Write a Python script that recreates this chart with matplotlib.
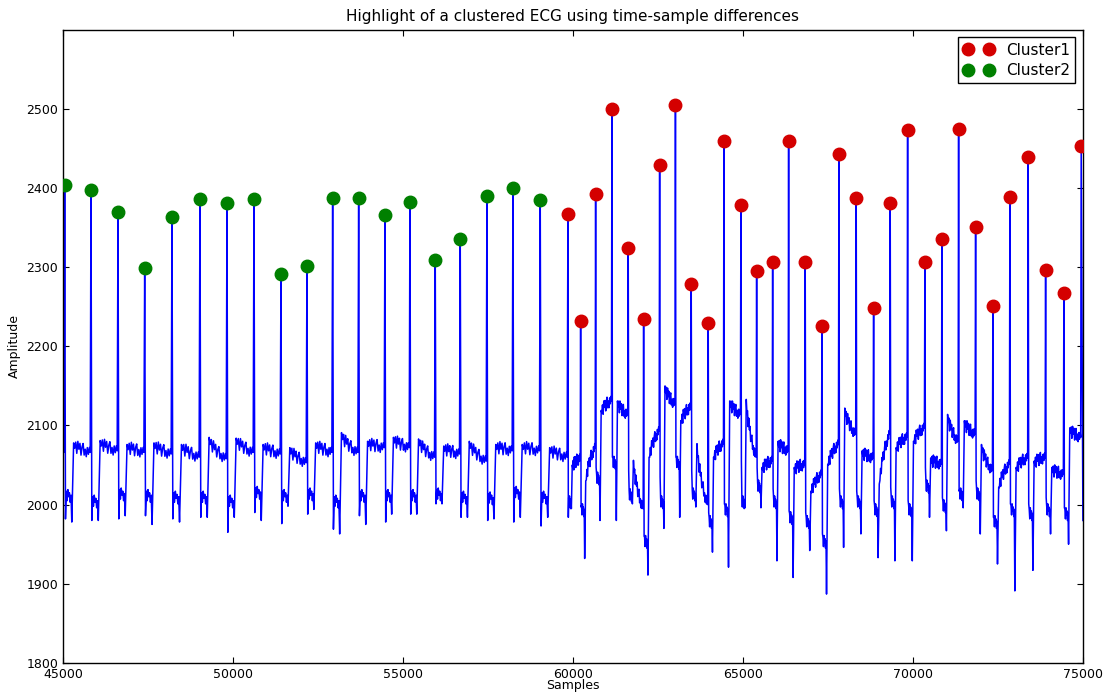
import matplotlib
matplotlib.use("Agg")
import matplotlib.pyplot as plt

plt.rcParams['font.family'] = ['DejaVu Sans']

# R-peak positions (samples) and amplitudes for the two clusters
cluster2_x = [45050, 45824, 46618, 47403, 48206, 49029, 49824, 50618, 51412, 52176,
              52932, 53697, 54470, 55206, 55950, 56685, 57470, 58235, 59038]
cluster2_y = [2404, 2397, 2370, 2299, 2363, 2386, 2381, 2386, 2292, 2301,
              2388, 2388, 2366, 2383, 2309, 2335, 2390, 2400, 2385]

cluster1_x = [59853, 60226, 60667, 61147, 61626, 62079, 62550, 63015, 63479, 63979,
              64441, 64941, 65403, 65874, 66344, 66832, 67324, 67824, 68332, 68844,
              69332, 69844, 70353, 70853, 71344, 71844, 72353, 72853, 73391, 73903,
              74441, 74950]
cluster1_y = [2367, 2232, 2392, 2500, 2324, 2234, 2429, 2505, 2279, 2229,
              2459, 2379, 2295, 2306, 2459, 2306, 2226, 2443, 2388, 2248,
              2381, 2473, 2306, 2335, 2474, 2351, 2251, 2389, 2439, 2296,
              2268, 2453]

# levels of the trace between one R peak and the next
s_level = [1982, 1980, 1982, 1986, 1982, 1984, 1965, 1990, 1976, 1988,
           1969, 1986, 1978, 1988, 2001, 1984, 1980, 1978, 1973,
           1984, 1997, 2047, 2060, 2043, 1960, 2035, 2060, 2043, 1990,
           2001, 2055, 2047, 2020, 1992, 1990, 1963, 2020, 2017, 2005,
           2022, 2005, 2047, 2009, 2017, 2030, 1984, 2001, 2001, 2009,
           1996, 1980]
low_level = [2008, 2001, 2010, 2008, 2006, 2006, 2001, 2012, 2008, 2010,
             2001, 2008, 2008, 2008, 2010, 2006, 2005, 2012, 2006,
             2000, 1990, 2030, 2050, 2009, 1950, 2000, 2050, 2010, 1975,
             1990, 2000, 2020, 2000, 1980, 1975, 1950, 2000, 2000, 1990,
             2000, 1990, 2020, 1995, 2010, 2010, 1975, 1990, 1985, 1990,
             1985, 1980]
dip_level = [1978, 1980, 1986, 1975, 1978, 1984, 1984, 1980, 1998, 1994,
             1963, 1975, 1988, 1988, 2001, 1984, 1982, 1984, 1984,
             1995, 1932, 1980, 1980, 2001, 1911, 1970, 1984, 1997, 1940,
             1921, 1996, 1996, 1929, 1908, 1942, 1887, 1946, 1963, 1933,
             1929, 1929, 1984, 1967, 1996, 1963, 1925, 1891, 1917, 1963,
             1950, 1980]
high_level = [2078, 2081, 2076, 2078, 2076, 2085, 2084, 2076, 2072, 2078,
              2091, 2080, 2085, 2083, 2074, 2080, 2076, 2076, 2072,
              2050, 2030, 2119, 2131, 2056, 2060, 2150, 2106, 2077, 2060,
              2131, 2133, 2047, 2080, 2047, 2017, 2051, 2122, 2068, 2026,
              2072, 2080, 2059, 2114, 2106, 2076, 2022, 2047, 2055, 2047,
              2097, 1980]
pre_level = [2066, 2068, 2066, 2064, 2060, 2058, 2066, 2064, 2053, 2066,
             2066, 2072, 2072, 2060, 2064, 2055, 2068, 2068, 2060,
             2058, 2072, 2131, 2114, 1995, 2093, 2127, 2123, 2000, 2077,
             2114, 2060, 2055, 2068, 2050, 2038, 2076, 2089, 2059, 2089,
             2085, 2097, 2051, 2080, 2089, 2043, 2051, 2059, 2059, 2038,
             2085, 1980]
start_level = 2066

# beat shape: where the levels sit inside one R-R interval, plus the noise ripple
low_frac = [0.03, 0.06, 0.09, 0.12, 0.15, 0.18, 0.21, 0.24]
low_rip = [0, 9, -3, 11, 2, 7, -5, 4]
dip_frac = 0.27
high_frac = [0.34, 0.38, 0.42, 0.46, 0.50, 0.54, 0.58, 0.62, 0.66, 0.70,
             0.74, 0.78, 0.82, 0.86, 0.90, 0.94, 0.97]
decay = [1.0, 0.85, 0.75, 0.65, 0.58, 0.5, 0.45, 0.38, 0.32, 0.27,
         0.22, 0.17, 0.13, 0.09, 0.05, 0.02, 0.0]
high_rip = [0, -5, 4, -9, 7, -2, 6, -8, 3, 8, -6, 2, -7, 5, -3, 6, 0]

peaks_x = cluster2_x + cluster1_x
peaks_y = cluster2_y + cluster1_y

t = [45000, peaks_x[0] - 20]
v = [start_level, start_level]
for i in range(len(peaks_x)):
    r = peaks_x[i]
    t.append(r)
    v.append(peaks_y[i])
    if i == len(peaks_x) - 1:
        t.append(75000)
        v.append(s_level[i])
        break
    rr = peaks_x[i + 1] - r
    for k in range(len(low_frac)):
        t.append(r + low_frac[k] * rr)
        v.append(s_level[i] if k == 0 else low_level[i] + low_rip[k])
    t.append(r + dip_frac * rr)
    v.append(dip_level[i])
    for k in range(len(high_frac)):
        t.append(r + high_frac[k] * rr)
        lvl = pre_level[i] + (high_level[i] - pre_level[i]) * decay[k]
        v.append(lvl + high_rip[k])

fig = plt.figure(figsize=(11.05, 6.92), dpi=100)
ax = fig.add_axes([0.057, 0.042, 0.923, 0.915])

ax.plot(t, v, color='#0000ff', lw=1.1, zorder=2)
ax.plot(cluster1_x, cluster1_y, 'o', color='#d40000', mec='#d40000', ms=9,
        label='Cluster1', zorder=3)
ax.plot(cluster2_x, cluster2_y, 'o', color='#008000', mec='#008000', ms=9,
        label='Cluster2', zorder=3)

ax.set_xlim(45000, 75000)
ax.set_ylim(1800, 2600)
ax.set_xticks(range(45000, 75001, 5000))
ax.set_yticks(range(1800, 2501, 100))
ax.tick_params(direction='in', top=True, right=True, labelsize=9, length=4)
for sp in ax.spines.values():
    sp.set_linewidth(1.0)

ax.set_title('Highlight of a clustered ECG using time-sample differences', fontsize=11)
ax.set_xlabel('Samples', fontsize=9, va='top')
ax.xaxis.set_label_coords(0.5, -0.026)
ax.set_ylabel('Amplitude', fontsize=9)

leg = ax.legend(loc='upper right', numpoints=2, fontsize=11, fancybox=False,
                edgecolor='black', framealpha=1, borderaxespad=0.5,
                labelspacing=0.35, borderpad=0.35)
leg.get_frame().set_linewidth(1.0)

fig.savefig('out.png', dpi=100)
